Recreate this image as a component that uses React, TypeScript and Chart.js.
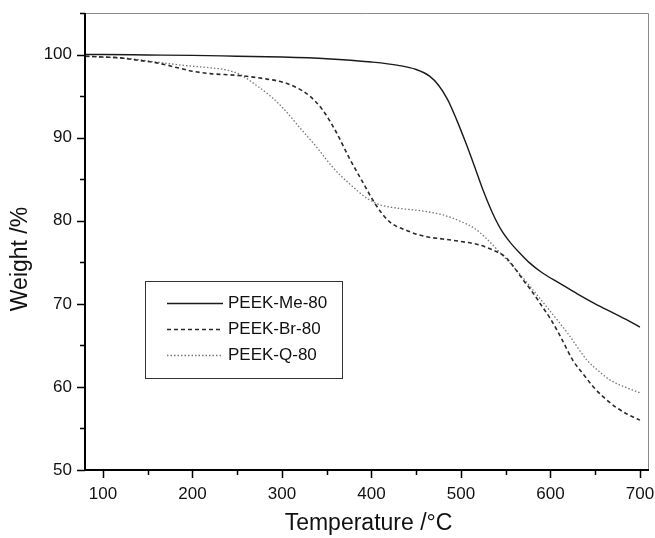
import React, { useEffect, useRef } from "react";
import { Chart, registerables } from "chart.js";

Chart.register(...registerables);

// ---- Data ----
const meTemp = [80, 100, 150, 200, 250, 300, 350, 400, 430, 450, 465, 475, 485, 495, 505, 515, 525, 535, 545, 555, 565, 577, 590, 610, 630, 650, 670, 690, 700];
const meWeight = [100.0, 100.0, 99.95, 99.9, 99.8, 99.7, 99.5, 99.1, 98.7, 98.2, 97.4, 96.3, 94.6, 92.2, 89.5, 86.6, 83.6, 81.0, 78.9, 77.4, 76.2, 74.9, 73.8, 72.5, 71.2, 70.0, 68.9, 67.8, 67.2];

const brTemp = [80, 100, 120, 140, 160, 180, 200, 220, 250, 280, 300, 315, 330, 345, 360, 375, 390, 405, 420, 440, 460, 480, 500, 520, 535, 550, 560, 570, 580, 590, 600, 612, 625, 637, 648, 660, 674, 688, 700];
const brWeight = [99.8, 99.7, 99.6, 99.3, 99.0, 98.5, 98.0, 97.7, 97.5, 97.1, 96.7, 96.1, 95.1, 93.4, 90.8, 87.6, 84.7, 81.9, 79.9, 78.8, 78.1, 77.8, 77.5, 77.1, 76.5, 75.6, 74.3, 72.8, 71.4, 69.8, 68.2, 65.9, 63.2, 61.5, 60.0, 58.7, 57.5, 56.6, 56.0];

const qTemp = [80, 100, 130, 160, 190, 220, 240, 255, 270, 285, 300, 320, 340, 357, 376, 395, 410, 430, 455, 480, 500, 515, 529, 545, 560, 575, 596, 619, 641, 655, 667, 685, 700];
const qWeight = [99.8, 99.7, 99.5, 99.1, 98.7, 98.4, 98.1, 97.5, 96.4, 95.2, 93.7, 91.2, 88.7, 86.4, 84.4, 82.7, 81.9, 81.5, 81.2, 80.7, 79.9, 79.1, 77.8, 76.0, 74.3, 72.4, 69.6, 66.5, 63.2, 61.8, 60.8, 59.9, 59.3];

const seriesNames = ["PEEK-Me-80", "PEEK-Br-80", "PEEK-Q-80"];
const xMajorTicks = [100, 200, 300, 400, 500, 600, 700];
const xMinorTicks = [150, 250, 350, 450, 550, 650];
const yMajorTicks = [50, 60, 70, 80, 90, 100];
const yMinorTicks = [55, 65, 75, 85, 95, 105];
const xTitle = "Temperature /°C";
const yTitle = "Weight /%";

const FONT = '"Liberation Sans", Arial, sans-serif';

const toPoints = (xs: number[], ys: number[]) => xs.map((x, i) => ({ x, y: ys[i] }));

const styles = [
  { color: "#1a1a1a", width: 1.4, dash: [] as number[] },
  { color: "#2a2a2a", width: 1.6, dash: [4, 3] },
  { color: "#777777", width: 1.3, dash: [1.5, 2] },
];

const zeroPad = (s: any) => {
  s.paddingTop = 0;
  s.paddingBottom = 0;
  s.paddingLeft = 0;
  s.paddingRight = 0;
};

const framePlugin = {
  id: "frame",
  afterDraw(chart: any) {
    const { ctx, chartArea: a, scales } = chart;
    const xs = scales.x;
    const ys = scales.y;
    ctx.save();
    // thin top/right border
    ctx.strokeStyle = "#8a8a8a";
    ctx.lineWidth = 1;
    ctx.beginPath();
    ctx.moveTo(a.left, a.top + 0.5);
    ctx.lineTo(a.right + 0.5, a.top + 0.5);
    ctx.lineTo(a.right + 0.5, a.bottom);
    ctx.stroke();
    // thick left/bottom axes
    ctx.strokeStyle = "#000";
    ctx.lineWidth = 2;
    ctx.beginPath();
    ctx.moveTo(a.left, a.top);
    ctx.lineTo(a.left, a.bottom);
    ctx.lineTo(a.right + 1, a.bottom);
    ctx.stroke();
    // ticks
    ctx.lineWidth = 1.5;
    ctx.beginPath();
    xMajorTicks.forEach((v) => {
      const p = Math.round(xs.getPixelForValue(v)) + 0.5;
      ctx.moveTo(p, a.bottom);
      ctx.lineTo(p, a.bottom + 8);
    });
    xMinorTicks.forEach((v) => {
      const p = Math.round(xs.getPixelForValue(v)) + 0.5;
      ctx.moveTo(p, a.bottom);
      ctx.lineTo(p, a.bottom + 5);
    });
    yMajorTicks.forEach((v) => {
      const p = Math.round(ys.getPixelForValue(v)) + 0.5;
      ctx.moveTo(a.left, p);
      ctx.lineTo(a.left - 8, p);
    });
    yMinorTicks.forEach((v) => {
      const p = Math.round(ys.getPixelForValue(v)) + 0.5;
      ctx.moveTo(a.left, p);
      ctx.lineTo(a.left - 5, p);
    });
    ctx.stroke();

    // axis titles
    ctx.fillStyle = "#111";
    ctx.font = `23px ${FONT}`;
    ctx.textAlign = "center";
    ctx.textBaseline = "middle";
    ctx.fillText(xTitle, (a.left + a.right) / 2 + 2, 524);
    ctx.save();
    ctx.translate(21, 259);
    ctx.rotate(-Math.PI / 2);
    ctx.fillText(yTitle, 0, 0);
    ctx.restore();

    // legend
    const bx = 145, by = 281, bw = 197, bh = 97;
    ctx.strokeStyle = "#333";
    ctx.lineWidth = 1;
    ctx.strokeRect(bx + 0.5, by + 0.5, bw, bh);
    const rows = [303, 329, 355];
    ctx.font = `17px ${FONT}`;
    ctx.textAlign = "left";
    seriesNames.forEach((name, i) => {
      const s = styles[i];
      ctx.strokeStyle = s.color;
      ctx.lineWidth = s.width;
      ctx.setLineDash(s.dash);
      ctx.beginPath();
      ctx.moveTo(167, rows[i] + 0.5);
      ctx.lineTo(223, rows[i] + 0.5);
      ctx.stroke();
      ctx.setLineDash([]);
      ctx.fillStyle = "#111";
      ctx.fillText(name, 228, rows[i]);
    });
    ctx.restore();
  },
};

export default function App() {
  const ref = useRef<HTMLCanvasElement>(null);
  useEffect(() => {
    if (!ref.current) return;
    const data = [toPoints(meTemp, meWeight), toPoints(brTemp, brWeight), toPoints(qTemp, qWeight)];
    const chart = new Chart(ref.current, {
      type: "line",
      data: {
        datasets: seriesNames.map((name, i) => ({
          label: name,
          data: data[i],
          borderColor: styles[i].color,
          borderWidth: styles[i].width,
          borderDash: styles[i].dash,
          pointRadius: 0,
          fill: false,
          cubicInterpolationMode: "monotone" as const,
        })),
      },
      options: {
        animation: false,
        responsive: false,
        maintainAspectRatio: false,
        layout: { padding: { left: 0, top: 13, right: 7, bottom: 0 } },
        plugins: { legend: { display: false }, tooltip: { enabled: false } },
        scales: {
          x: {
            type: "linear",
            min: 80,
            max: 709,
            grid: { display: false, drawTicks: false },
            border: { display: false },
            afterBuildTicks: (s: any) => {
              s.ticks = xMajorTicks.map((v) => ({ value: v }));
            },
            afterFit: (s: any) => {
              s.height = 68;
              zeroPad(s);
            },
            ticks: {
              padding: 14,
              color: "#111",
              font: { family: FONT, size: 17 },
              maxRotation: 0,
              autoSkip: false,
              callback: (v: any) => String(v),
            },
          },
          y: {
            type: "linear",
            min: 50,
            max: 105,
            grid: { display: false, drawTicks: false },
            border: { display: false },
            afterBuildTicks: (s: any) => {
              s.ticks = yMajorTicks.map((v) => ({ value: v }));
            },
            afterFit: (s: any) => {
              s.width = 85;
              zeroPad(s);
            },
            ticks: {
              padding: 13,
              color: "#111",
              font: { family: FONT, size: 17 },
              autoSkip: false,
              callback: (v: any) => String(v),
            },
          },
        },
      },
      plugins: [framePlugin],
    });
    return () => chart.destroy();
  }, []);
  return (
    <div style={{ position: "fixed", left: 0, top: 0, width: 655, height: 538, background: "#fff" }}>
      <canvas ref={ref} width={655} height={538} style={{ display: "block" }} />
    </div>
  );
}
